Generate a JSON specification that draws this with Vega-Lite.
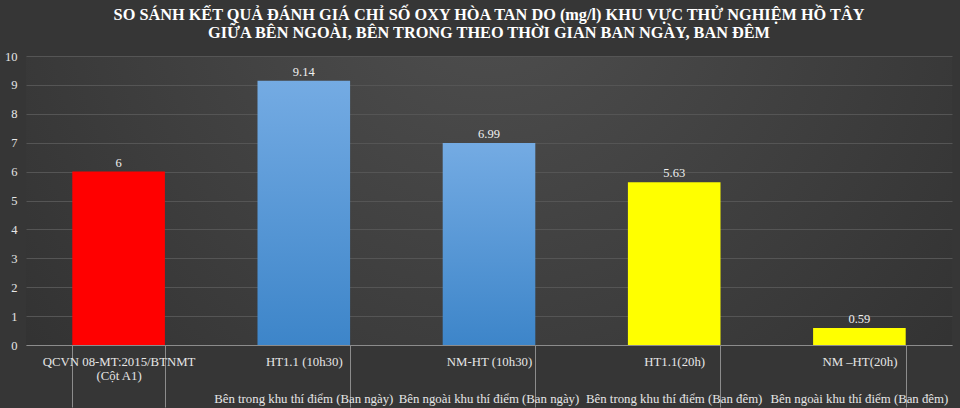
{
  "$schema": "https://vega.github.io/schema/vega-lite/v6.json",
  "width": 960,
  "height": 408,
  "autosize": {"type": "fit", "contains": "padding"},
  "padding": {"left": 4, "right": 8, "top": 6, "bottom": 0},
  "background": "#363636",
  "title": {
    "text": ["SO SÁNH KẾT QUẢ ĐÁNH GIÁ CHỈ SỐ OXY HÒA TAN DO (mg/l) KHU VỰC THỬ NGHIỆM HỒ TÂY", "GIỮA BÊN NGOÀI, BÊN TRONG THEO THỜI GIAN BAN NGÀY, BAN ĐÊM"],
    "font": "Liberation Serif",
    "fontSize": 16.3,
    "fontWeight": "bold",
    "color": "#ffffff",
    "lineHeight": 18,
    "anchor": "middle",
    "offset": 9
  },
  "data": {
    "values": [
      {"label": "QCVN 08-MT:2015/BTNMT|(Cột A1)#", "value": 6, "type": "ref"},
      {"label": "HT1.1 (10h30)#Bên trong khu thí điểm (Ban ngày)", "value": 9.14, "type": "day"},
      {"label": "NM-HT (10h30)#Bên ngoài khu thí điểm (Ban ngày)", "value": 6.99, "type": "day"},
      {"label": "HT1.1(20h)#Bên trong khu thí điểm (Ban đêm)", "value": 5.63, "type": "night"},
      {"label": "NM –HT(20h)#Bên ngoài khu thí điểm (Ban đêm)", "value": 0.59, "type": "night"}
    ]
  },
  "encoding": {
    "y": {
      "field": "value",
      "type": "quantitative",
      "scale": {"domain": [0, 10], "nice": false},
      "axis": {
        "title": null,
        "values": [0, 1, 2, 3, 4, 5, 6, 7, 8, 9, 10],
        "domain": false,
        "ticks": false,
        "labelFont": "Liberation Serif",
        "labelFontSize": 12.5,
        "labelColor": "#e6e6e6",
        "labelPadding": 9,
        "gridColor": "#555555",
        "gridWidth": 1
      }
    }
  },
  "layer": [
    {
      "encoding": {
        "x": {
          "field": "label",
          "type": "nominal",
          "sort": null,
          "scale": {"paddingInner": 0.5, "paddingOuter": 0.25},
          "axis": {
            "title": null,
            "orient": "bottom",
            "labelAngle": 0,
            "labelExpr": "datum.value ? split(split(datum.value, '#')[0], '|') : ''",
            "labelFont": "Liberation Serif",
            "labelFontSize": 12.8,
            "labelColor": "#e6e6e6",
            "labelLineHeight": 14,
            "labelBaseline": "top",
            "labelLimit": 300,
            "labelPadding": -52,
            "tickBand": "extent",
            "tickSize": 62,
            "tickColor": "#8c8c8c",
            "tickWidth": 1,
            "domainColor": "#8c8c8c",
            "domainWidth": 1
          }
        }
      },
      "layer": [
        {
          "transform": [{"filter": "datum.type === 'ref'"}],
          "mark": {"type": "bar", "color": "#ff0000"}
        },
        {
          "transform": [{"filter": "datum.type === 'day'"}],
          "mark": {
            "type": "bar",
            "color": {
              "gradient": "linear",
              "x1": 0, "y1": 0, "x2": 0, "y2": 1,
              "stops": [
                {"offset": 0, "color": "#74abe3"},
                {"offset": 1, "color": "#3d85c9"}
              ]
            }
          }
        },
        {
          "transform": [{"filter": "datum.type === 'night'"}],
          "mark": {"type": "bar", "color": "#ffff00"}
        }
      ]
    },
    {
      "mark": {
        "type": "text",
        "dy": -9,
        "font": "Liberation Serif",
        "fontSize": 12.5,
        "color": "#f0f0f0"
      },
      "encoding": {
        "x": {
          "field": "label",
          "type": "nominal",
          "sort": null,
          "axis": {
            "title": null,
            "orient": "bottom",
            "labelAngle": 0,
            "labelExpr": "datum.value ? split(datum.value, '#')[1] : ''",
            "labelFont": "Liberation Serif",
            "labelFontSize": 12.8,
            "labelColor": "#e6e6e6",
            "labelBaseline": "top",
            "labelLimit": 300,
            "labelPadding": 47,
            "ticks": false,
            "domain": false,
            "grid": false
          }
        },
        "text": {"field": "value", "type": "quantitative"}
      }
    }
  ],
  "resolve": {"axis": {"x": "independent"}},
  "config": {
    "view": {
      "stroke": null,
      "fill": {
        "gradient": "radial",
        "x1": 0.5, "y1": 0.25, "r1": 0,
        "x2": 0.5, "y2": 0.25, "r2": 0.75,
        "stops": [
          {"offset": 0, "color": "#4f4f4f"},
          {"offset": 1, "color": "#2e2e2e"}
        ]
      }
    }
  }
}
